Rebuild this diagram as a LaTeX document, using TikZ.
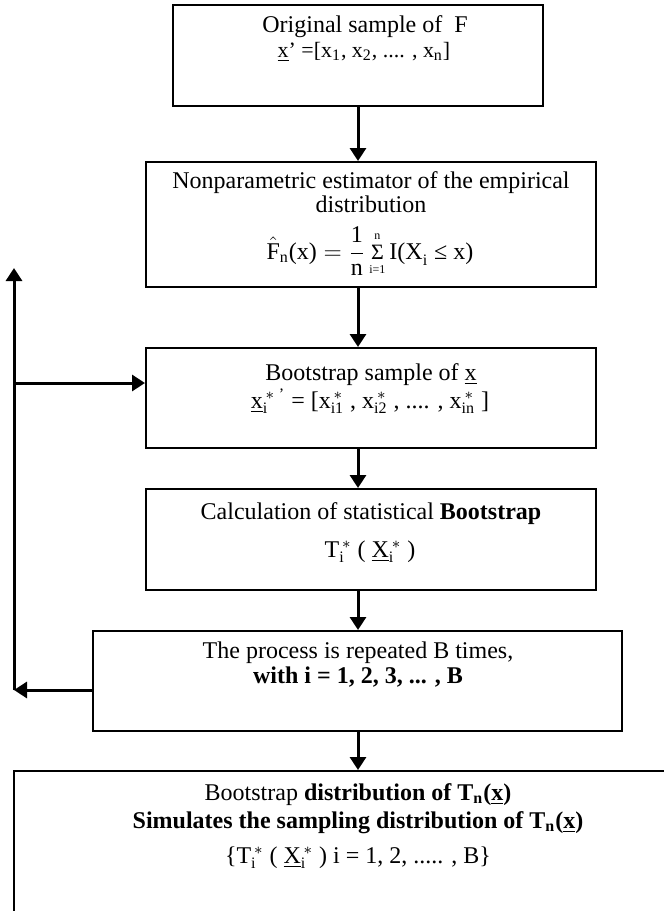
\documentclass[12pt,tikz,border=0pt]{standalone}
\usepackage{amsmath}
\usepackage{fontspec}
\setmainfont{Liberation Serif}
\usetikzlibrary{arrows.meta, positioning}

\newcommand{\ux}{\underline{x}}
\newcommand{\uX}{\underline{X}}
\newcommand{\tsub}[1]{\text{#1}}

\tikzset{
  stepbox/.style={draw, line width=1pt, inner sep=0pt},
  flow/.style={line width=1.5pt, -{Triangle[width=8pt,length=6.5pt]}},
  txt/.style={anchor=base, inner sep=0pt},
}

\begin{document}
\begin{tikzpicture}[x=0.5pt, y=-0.5pt]
    \useasboundingbox (0,0) rectangle (664,911);
    \clip (0,0) rectangle (664,911);

    % Boxes
    \node[stepbox, minimum width=185pt, minimum height=50.5pt] (orig) at (358,55.5) {};
    \node[stepbox, minimum width=225pt, minimum height=62.5pt] (est) at (371,224.5) {};
    \node[stepbox, minimum width=225pt, minimum height=50pt] (boot) at (371,398) {};
    \node[stepbox, minimum width=225pt, minimum height=50.5pt] (calc) at (371,539.5) {};
    \node[stepbox, minimum width=264.5pt, minimum height=50pt] (rep) at (357.5,681) {};
    \node[stepbox, minimum width=333pt, minimum height=84.5pt] (dist) at (347,855.5) {};

    % Original sample
    \node[txt] (origa) at (365,32) {Original sample of~~F};
    \node[txt] (origb) at (364,57) {\small \ux’ =[x\textsubscript{1}, x\textsubscript{2}, .... , x\textsubscript{n}]};

    % Estimator
    \node[txt] (esta) at (371,188) {Nonparametric estimator of the empirical};
    \node[txt] (estb) at (371,212) {distribution};
    \node[txt] (estc) at (370,259) {$\displaystyle\hat{\text{F}}_{\tsub{\scriptsize n}}\text{(x)} = \frac{\text{1}}{\text{n}}\mathop{\text{\small Σ}}\limits_{\text{\tiny i=1}}^{\text{\tiny n}}\text{I(X}_{\tsub{\scriptsize i}}\text{ ≤ x)}$};

    % Bootstrap sample
    \node[txt] (boota) at (371,380) {Bootstrap sample of \ux};
    \node[txt] (bootb) at (370,408) {\ux$_{\tsub{i}}^{\,*\;’}$ = [x$^{\,*}_{\tsub{i1}}$ , x$^{\,*}_{\tsub{i2}}$ , .... , x$^{\,*}_{\tsub{in}}$ ]};

    % Statistic
    \node[txt] (calca) at (371,519) {Calculation of statistical \textbf{Bootstrap}};
    \node[txt] (calcb) at (370,557) {T$^{\,*}_{\tsub{i}}$ ( \uX$^{\,*}_{\tsub{i}}$ )};

    % Repetition
    \node[txt] (repa) at (358,658) {The process is repeated B times,};
    \node[txt] (repb) at (358,683) {\textbf{with i = 1, 2, 3, ... , B}};

    % Bootstrap distribution
    \node[txt] (dista) at (358,800) {Bootstrap \textbf{distribution of T\textsubscript{n}(\ux)}};
    \node[txt] (distb) at (358,828) {\textbf{Simulates the sampling distribution of T\textsubscript{n}(\ux)}};
    \node[txt] (distc) at (358,863) {\{T$^{\,*}_{\tsub{i}}$ ( \uX$^{\,*}_{\tsub{i}}$ ) i = 1, 2, ..... , B\}};

    % Main flow
    \draw[flow] (orig.south) -- (orig.south |- est.north);
    \draw[flow] (orig.south |- est.south) -- (orig.south |- boot.north);
    \draw[flow] (orig.south |- boot.south) -- (orig.south |- calc.north);
    \draw[flow] (orig.south |- calc.south) -- (orig.south |- rep.north);
    \draw[flow] (orig.south |- rep.south) -- (orig.south |- dist.north);

    % Loop back
    \coordinate (back) at (14,690);
    \coordinate (top) at (14,268);
    \coordinate (join) at (14,383);
    \draw[flow] (rep.west |- back) -- (back);
    \draw[flow] (back) -- (top);
    \draw[flow] (join) -- (join -| boot.west);
\end{tikzpicture}
\end{document}
